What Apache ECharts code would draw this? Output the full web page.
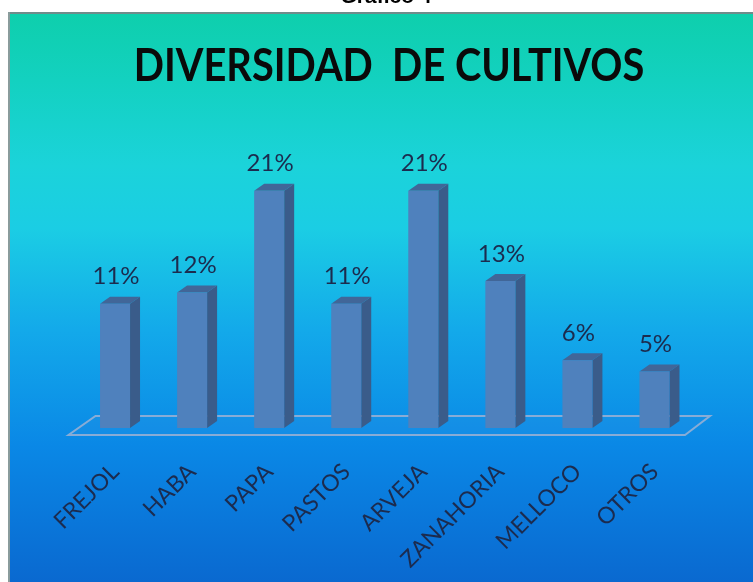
<!DOCTYPE html>
<html>
<head>
<meta charset="utf-8">
<script src="https://cdn.jsdelivr.net/npm/echarts@6/dist/echarts.min.js"></script>
<style>
  html, body { margin: 0; padding: 0; background: #ffffff; }
  #chart { width: 753px; height: 582px; }
</style>
</head>
<body>
<div id="chart"></div>
<script>
// Crop shares (percent of surveyed plots)
const categories = ['FREJOL', 'HABA', 'PAPA', 'PASTOS', 'ARVEJA', 'ZANAHORIA', 'MELLOCO', 'OTROS'];
const shares = [11, 12, 21, 11, 21, 13, 6, 5];
const chartTitle = 'DIVERSIDAD  DE CULTIVOS';
const figureCaption = 'Gráfico 4';

const chart = echarts.init(document.getElementById('chart'), null, { renderer: 'canvas' });

// 3D bar look: front face, darker side and top faces
const FRONT = '#4f81bd';
const SIDE = '#3a5c8a';
const TOP = '#416698';
const BAR_W = 30;
const DX = 10;
const DY = 7;
const LABEL_COLOR = '#1c2b4e';

function renderBar(params, api) {
  const idx = api.value(0);
  const val = api.value(1);
  const top = api.coord([idx, val]);
  const base = api.coord([idx, 0]);
  const cx = top[0];
  const x0 = cx - BAR_W / 2;
  const x1 = cx + BAR_W / 2;
  const yT = top[1];
  const yB = base[1];
  const children = [];

  // floor plate drawn once, behind the bars
  if (params.dataIndex === 0) {
    const cs = params.coordSys;
    const L = cs.x;
    const R = cs.x + cs.width;
    children.push({
      type: 'polygon',
      shape: { points: [[L - 8, yB + 7], [R - 8, yB + 7], [R + 17, yB - 12], [L + 19, yB - 12]] },
      style: { fill: 'rgba(120,170,230,0.08)', stroke: '#88acd6', lineWidth: 2 }
    });
  }

  children.push(
    {
      type: 'polygon',
      shape: { points: [[x1, yT], [x1 + DX, yT - DY], [x1 + DX, yB - DY], [x1, yB]] },
      style: { fill: SIDE }
    },
    {
      type: 'polygon',
      shape: { points: [[x0, yT], [x0 + DX, yT - DY], [x1 + DX, yT - DY], [x1, yT]] },
      style: { fill: TOP }
    },
    {
      type: 'rect',
      shape: { x: x0, y: yT, width: BAR_W, height: yB - yT },
      style: { fill: FRONT }
    },
    {
      type: 'text',
      style: {
        text: val + '%',
        x: cx + 1,
        y: yT - 15,
        align: 'center',
        verticalAlign: 'bottom',
        fill: LABEL_COLOR,
        font: '24px Lato'
      }
    }
  );
  return { type: 'group', children: children };
}

const option = {
  animation: false,
  grid: { left: 76.5, right: 60, top: 145.5, bottom: 154 },
  xAxis: {
    type: 'category',
    data: categories,
    axisLine: { show: false },
    axisTick: { show: false },
    splitLine: { show: false },
    axisLabel: {
      rotate: 45,
      margin: 40,
      interval: 0,
      color: LABEL_COLOR,
      fontFamily: 'Lato',
      fontSize: 23
    }
  },
  yAxis: {
    type: 'value',
    min: 0,
    max: 25,
    show: false
  },
  series: [{
    type: 'custom',
    renderItem: renderBar,
    encode: { x: 0, y: 1 },
    data: categories.map(function (c, i) { return [i, shares[i]]; }),
    z: 5
  }],
  graphic: [
    {
      type: 'rect',
      z: -100,
      shape: { x: 8, y: 12, width: 745, height: 570 },
      style: {
        fill: {
          type: 'linear', x: 0, y: 0, x2: 0, y2: 1,
          colorStops: [
            { offset: 0, color: '#0ecfac' },
            { offset: 0.12, color: '#13d1c0' },
            { offset: 0.27, color: '#1bd3da' },
            { offset: 0.38, color: '#1bcde4' },
            { offset: 0.56, color: '#13a9ea' },
            { offset: 0.76, color: '#0a88e6' },
            { offset: 1, color: '#0a69d0' }
          ]
        }
      }
    },
    {
      type: 'line', z: -90,
      shape: { x1: 8, y1: 13, x2: 753, y2: 13 },
      style: { stroke: '#6f8c8b', lineWidth: 2 }
    },
    {
      type: 'line', z: -90,
      shape: { x1: 9, y1: 12, x2: 9, y2: 582 },
      style: { stroke: '#8a9c9c', lineWidth: 2 }
    },
    {
      type: 'text', z: 10,
      x: 386, y: 7.5,
      style: {
        text: figureCaption,
        align: 'center',
        verticalAlign: 'bottom',
        fill: '#000000',
        font: 'bold 21px "Liberation Sans", Arial, sans-serif'
      }
    },
    {
      type: 'text', z: 10,
      x: 389, y: 66,
      scaleX: 0.865,
      style: {
        text: chartTitle,
        align: 'center',
        verticalAlign: 'middle',
        fill: '#0a0a0a',
        font: 'bold 46px Lato'
      }
    }
  ]
};

chart.setOption(option);
</script>
</body>
</html>
